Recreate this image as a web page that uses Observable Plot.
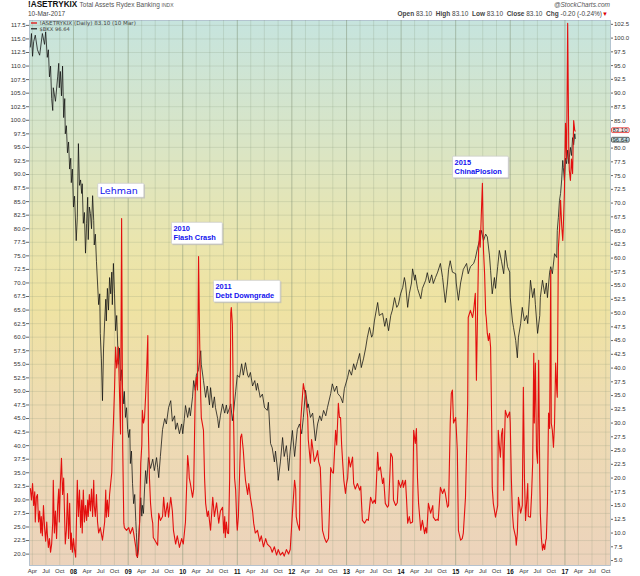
<!DOCTYPE html>
<html><head><meta charset="utf-8">
<script src="https://cdn.jsdelivr.net/npm/d3@7"></script>
<script src="https://cdn.jsdelivr.net/npm/@observablehq/plot@0.6"></script>
<style>
body{margin:0;background:#fff;font-family:"Liberation Sans",Arial,sans-serif;}
#wrap{position:relative;width:640px;height:576px;overflow:hidden;background:#fff;}
.h{position:absolute;white-space:nowrap;line-height:1;}
</style></head>
<body>
<div id="wrap">
  <div class="h" id="t1" style="left:28px;top:1px;font-size:8.2px;"></div>
  <div class="h" id="t2" style="left:28px;top:11px;font-size:6.5px;color:#444;"></div>
  <div class="h" id="t3" style="right:30px;top:2px;font-size:6.5px;color:#555;font-style:italic;"></div>
  <div class="h" id="t4" style="right:32px;top:11px;font-size:6.5px;color:#444;"></div>
  <div id="chart" style="position:absolute;left:0;top:20px;"></div>
</div>
<script>
// ---------- header / meta ----------
const symbolName = "!ASETRYKIX";
const symbolDesc = "Total Assets Rydex Banking";
const symbolExch = "INDX";
const asOfDate = "10-Mar-2017";
const asOfShort = "10 Mar";
const ohlc = {open: 83.10, high: 83.10, low: 83.10, close: 83.10};
const chg = -0.20, chgPct = -0.24;
const compareName = "$BKX";
const compareLast = 96.64;
const credit = "@StockCharts.com";

// ---------- axis scales ----------
const leftDomain = [17.9, 118.4];    // $BKX scale (left axis)
const rightDomain = [4.1, 103.2];    // !ASETRYKIX scale (right axis)
const xDomainYears = [2007.194, 2017.835];
const leftTicks = d3.range(20, 117.6, 2.5);
const rightTicks = d3.range(5, 102.6, 2.5);
const quarterNames = ["Jan", "Apr", "Jul", "Oct"];

// ---------- $BKX (black, left axis): [decimal year, value] ----------
const bkx = [
[2007.21,113.5],[2007.23,116],[2007.25,111.8],[2007.27,114.5],[2007.30,115.7],[2007.34,113],[2007.38,112],[2007.43,116],[2007.47,114],[2007.49,116.3],[2007.52,111.6],[2007.54,113],[2007.56,108],[2007.58,110],[2007.60,104],[2007.62,101.8],[2007.63,106],[2007.67,103.5],[2007.71,108],[2007.73,110.5],[2007.74,106],[2007.76,109],[2007.78,104.5],[2007.80,110],[2007.82,100.5],[2007.84,104],[2007.85,97.5],[2007.87,99],[2007.89,94],[2007.91,96],[2007.93,91],[2007.95,93],[2007.96,88.5],[2007.98,91],
[2008.00,84],[2008.02,86],[2008.05,77.8],[2008.07,82],[2008.09,95.7],[2008.11,88],[2008.13,89],[2008.15,86.5],[2008.16,88.3],[2008.18,81],[2008.20,83],[2008.22,75.5],[2008.24,81],[2008.26,85.8],[2008.27,78],[2008.29,84],[2008.31,82.8],[2008.33,80],[2008.35,86.1],[2008.37,81.5],[2008.38,77],[2008.40,79],[2008.42,74],[2008.44,70],[2008.46,66],[2008.48,68],[2008.49,60.7],[2008.51,56],[2008.53,48.3],[2008.55,58],[2008.57,63],[2008.59,67],[2008.60,63],[2008.62,69],[2008.64,65],[2008.66,71],[2008.68,68],[2008.70,72],[2008.71,66],[2008.73,73.6],[2008.75,68],[2008.77,61.2],[2008.79,64],[2008.81,58.1],[2008.82,55],[2008.84,58],[2008.86,52],[2008.88,54],[2008.90,50],[2008.92,47.7],[2008.93,50],[2008.95,45.2],[2008.97,47],[2008.99,43],
[2009.01,41.5],[2009.03,43],[2009.04,36.7],[2009.06,39],[2009.08,33],[2009.10,29.3],[2009.12,31],[2009.14,26],[2009.15,24],[2009.17,19.3],[2009.19,23],[2009.21,26],[2009.23,30.4],[2009.25,27],[2009.26,29],[2009.28,27.5],[2009.30,32],[2009.32,35.4],[2009.34,33],[2009.37,37.8],[2009.41,35.8],[2009.45,37.5],[2009.48,35.4],[2009.52,37.8],[2009.54,36],[2009.56,34.1],[2009.59,38],[2009.63,43],[2009.67,45],[2009.70,44],[2009.74,47],[2009.78,48.3],[2009.81,44.5],[2009.85,45.5],[2009.87,43],[2009.90,44.2],[2009.94,42.2],[2009.98,44],
[2010.00,42.2],[2010.03,45],[2010.05,47.4],[2010.09,45.2],[2010.12,47],[2010.14,45.5],[2010.18,49],[2010.20,52],[2010.23,50.2],[2010.25,53],[2010.29,54],[2010.33,57.5],[2010.34,55],[2010.38,52],[2010.42,48.9],[2010.45,51],[2010.49,47.5],[2010.51,50.7],[2010.55,47],[2010.58,49],[2010.60,47],[2010.64,45],[2010.66,43.3],[2010.69,45.5],[2010.73,47.7],[2010.77,46],[2010.80,47.5],[2010.82,45.9],[2010.86,47],[2010.88,47.7],[2010.91,44.6],[2010.93,46],[2010.97,50],
[2011.00,53],[2011.04,52.6],[2011.08,55.1],[2011.11,53],[2011.15,55.3],[2011.19,53],[2011.21,52.6],[2011.24,53.5],[2011.28,51],[2011.32,52],[2011.35,50.2],[2011.37,51.5],[2011.42,48.9],[2011.46,49.5],[2011.50,47],[2011.55,46.5],[2011.57,48],[2011.61,40.4],[2011.64,39.6],[2011.68,37],[2011.70,39],[2011.74,35.4],[2011.75,33.6],[2011.79,37],[2011.83,41.5],[2011.86,38],[2011.90,40],[2011.92,37.8],[2011.94,35.4],[2011.97,39],
[2012.01,42.8],[2012.05,38],[2012.07,40],[2012.10,43],[2012.14,44],[2012.18,42.2],[2012.21,45.2],[2012.25,50.2],[2012.29,47],[2012.30,47.7],[2012.34,45.2],[2012.38,46],[2012.40,44],[2012.43,40.9],[2012.47,44],[2012.51,45.5],[2012.54,44.6],[2012.58,46.5],[2012.62,45.5],[2012.65,47],[2012.71,49.6],[2012.74,51.4],[2012.78,50],[2012.82,51],[2012.84,49.6],[2012.89,49],[2012.93,47.9],[2012.96,50.5],
[2013.02,52.6],[2013.05,54],[2013.09,53],[2013.13,55.1],[2013.16,54],[2013.20,55.5],[2013.24,57],[2013.27,54.4],[2013.31,56],[2013.35,58],[2013.38,59.9],[2013.42,61.8],[2013.46,60],[2013.48,60.5],[2013.51,63],[2013.57,66.4],[2013.60,64],[2013.66,64.4],[2013.70,62],[2013.73,63.5],[2013.77,61.2],[2013.81,64],[2013.84,65],[2013.88,67.3],[2013.92,65.5],[2013.95,66],[2013.99,68],
[2014.03,69.2],[2014.06,71],[2014.08,70],[2014.12,65.5],[2014.15,68],[2014.19,70],[2014.21,72.6],[2014.25,70.5],[2014.26,71.5],[2014.30,69],[2014.36,67.1],[2014.39,69],[2014.45,70.5],[2014.48,71.9],[2014.52,70],[2014.56,71.5],[2014.59,69.9],[2014.63,71],[2014.67,72],[2014.72,73.6],[2014.76,71],[2014.81,66.4],[2014.85,70],[2014.87,72.5],[2014.90,74.1],[2014.94,72],
[2015.00,71.7],[2015.01,70],[2015.05,66.8],[2015.09,70],[2015.14,72.5],[2015.20,73.6],[2015.23,71.7],[2015.27,73],[2015.33,73.6],[2015.36,74.5],[2015.40,76.4],[2015.44,78],[2015.47,79.7],[2015.51,77.8],[2015.55,79],[2015.58,78.5],[2015.62,75],[2015.64,72.3],[2015.67,68],[2015.71,71],[2015.73,69],[2015.77,73],[2015.80,76],[2015.84,74],[2015.88,71.7],[2015.91,76],[2015.95,73],[2015.99,72],
[2016.00,67.3],[2016.04,63],[2016.06,61.8],[2016.10,59.4],[2016.13,56.2],[2016.15,60],[2016.19,62.5],[2016.22,65.5],[2016.26,63],[2016.30,64],[2016.32,62.5],[2016.35,67],[2016.37,70.5],[2016.41,67.3],[2016.44,69],[2016.46,66],[2016.50,60.7],[2016.54,64],[2016.55,67.3],[2016.59,70.5],[2016.63,68],[2016.66,70],[2016.68,67.3],[2016.72,72],[2016.74,73],[2016.77,71.7],[2016.81,75.4],[2016.85,74.7],[2016.86,79.7],[2016.88,82.1],[2016.90,85.2],[2016.92,86.5],[2016.94,89],[2016.96,92.6],[2016.97,91.3],[2016.99,88.9],
[2017.01,93],[2017.03,92],[2017.05,94.5],[2017.07,92],[2017.08,93.1],[2017.10,95],[2017.12,93.5],[2017.14,96.8],[2017.16,95.5],[2017.18,97.5],[2017.19,96.64]
];

// ---------- !ASETRYKIX (red, right axis): [decimal year, value] ----------
const rydex = [
[2007.21,18.1],[2007.23,16],[2007.25,19],[2007.27,15],[2007.29,17.5],[2007.30,12],[2007.32,16.5],[2007.34,17],[2007.36,12],[2007.38,14],[2007.40,10],[2007.41,13],[2007.43,9.5],[2007.45,15],[2007.47,11],[2007.49,8.5],[2007.51,12],[2007.52,10],[2007.54,7.4],[2007.56,9],[2007.58,6.5],[2007.60,8],[2007.62,12],[2007.63,19.6],[2007.65,10],[2007.67,14],[2007.69,9],[2007.71,15],[2007.73,18],[2007.74,12],[2007.76,19],[2007.78,23.6],[2007.80,17],[2007.82,20],[2007.84,12],[2007.85,8],[2007.87,10.5],[2007.89,17.2],[2007.91,9],[2007.93,15.4],[2007.95,7],[2007.96,10],[2007.98,6.5],
[2008.00,9],[2008.02,7],[2008.04,5.6],[2008.05,10],[2008.07,19.6],[2008.09,13],[2008.11,17.8],[2008.13,11],[2008.15,16],[2008.16,10],[2008.18,17.8],[2008.20,12],[2008.22,15],[2008.24,12.3],[2008.26,16],[2008.27,13],[2008.29,17],[2008.31,14],[2008.33,18],[2008.35,13],[2008.37,19.6],[2008.38,15],[2008.40,13],[2008.42,17],[2008.44,12],[2008.46,10],[2008.49,11],[2008.53,8.7],[2008.57,12],[2008.59,17.8],[2008.60,12.9],[2008.62,16],[2008.64,13],[2008.66,17],[2008.68,19],[2008.70,21],[2008.71,25],[2008.73,30],[2008.75,36],[2008.77,43.8],[2008.79,40],[2008.81,42],[2008.82,43.8],[2008.84,36],[2008.86,28],[2008.88,67.2],[2008.90,25.6],[2008.92,11.8],[2008.93,11],[2008.97,10.5],
[2009.01,11],[2009.04,9.9],[2009.08,11],[2009.10,10],[2009.14,7.4],[2009.15,6],[2009.17,5.6],[2009.19,7],[2009.21,12],[2009.23,22.7],[2009.25,26],[2009.26,32.3],[2009.28,30],[2009.30,31],[2009.32,35],[2009.34,40],[2009.36,45.9],[2009.37,28.7],[2009.39,20],[2009.41,15.4],[2009.43,13],[2009.45,11.8],[2009.46,9.2],[2009.50,8.5],[2009.54,7.8],[2009.56,13.6],[2009.59,12.3],[2009.63,13],[2009.65,16.5],[2009.68,13],[2009.72,15.5],[2009.74,12.9],[2009.78,16.5],[2009.81,14],[2009.83,10.5],[2009.87,8],[2009.90,9.5],[2009.94,7.4],[2009.98,9],
[2010.01,8],[2010.05,12],[2010.09,24.1],[2010.11,22],[2010.12,20],[2010.14,19],[2010.18,16.5],[2010.20,18],[2010.23,36],[2010.25,38.3],[2010.27,36],[2010.29,60.3],[2010.31,45],[2010.33,34.7],[2010.34,31],[2010.38,28.7],[2010.40,20],[2010.42,15.4],[2010.45,13],[2010.47,14],[2010.51,10.5],[2010.55,16.5],[2010.58,13],[2010.62,15.5],[2010.66,11.8],[2010.69,14],[2010.73,14.7],[2010.75,10],[2010.77,13],[2010.78,9.2],[2010.80,12],[2010.82,10],[2010.84,9.9],[2010.86,20],[2010.88,50],[2010.89,51],[2010.91,48],[2010.93,31.8],[2010.95,20],[2010.97,17.8],[2010.99,12],
[2011.00,10.5],[2011.02,13],[2011.04,20],[2011.06,27.4],[2011.08,28],[2011.10,26],[2011.11,25],[2011.13,22],[2011.15,19.6],[2011.19,17],[2011.21,19],[2011.24,16.5],[2011.28,14],[2011.30,11.8],[2011.33,10],[2011.37,10.5],[2011.41,8.5],[2011.44,9.5],[2011.48,7.5],[2011.52,9],[2011.55,8],[2011.61,7.4],[2011.64,6.5],[2011.68,7.5],[2011.72,6],[2011.75,7],[2011.79,6],[2011.83,6.5],[2011.86,5.8],[2011.90,7],[2011.94,6.2],[2011.97,7],
[2012.01,13.6],[2012.05,19.6],[2012.07,18],[2012.08,13],[2012.10,11.8],[2012.14,10.5],[2012.16,30],[2012.18,33],[2012.21,37.2],[2012.23,36],[2012.25,35],[2012.29,31],[2012.30,27],[2012.34,22.7],[2012.36,27],[2012.38,25.6],[2012.41,23],[2012.45,24],[2012.47,25],[2012.49,23],[2012.52,21.9],[2012.54,16],[2012.56,10.5],[2012.60,9],[2012.63,8.3],[2012.67,9],[2012.69,15],[2012.71,21.9],[2012.74,21],[2012.76,20.9],[2012.80,28.7],[2012.82,26],[2012.85,33.6],[2012.87,31],[2012.89,31],[2012.91,26],[2012.93,22.7],[2012.95,19.6],[2012.98,17.2],
[2013.00,19],[2013.02,20],[2013.04,23.8],[2013.07,22],[2013.11,23.8],[2013.13,19],[2013.16,18],[2013.20,19],[2013.24,17.8],[2013.26,18.5],[2013.29,12.3],[2013.33,11.8],[2013.37,12.5],[2013.40,12.3],[2013.44,16.5],[2013.48,15.4],[2013.51,16],[2013.53,15.4],[2013.55,20],[2013.57,24.7],[2013.59,21.4],[2013.62,22],[2013.66,19],[2013.68,20],[2013.71,15.4],[2013.75,14.7],[2013.77,15],[2013.81,24.5],[2013.84,23.8],[2013.86,16],[2013.90,15],[2013.93,15.5],[2013.95,19.6],[2013.99,18.3],
[2014.03,19.6],[2014.04,18.3],[2014.08,19.6],[2014.10,16],[2014.12,11.8],[2014.15,13],[2014.17,11.8],[2014.21,12],[2014.23,28.7],[2014.26,26.3],[2014.28,29],[2014.30,20],[2014.32,15.4],[2014.36,10.5],[2014.39,12.3],[2014.43,9.9],[2014.45,11],[2014.47,10],[2014.50,15.4],[2014.54,13.6],[2014.58,15],[2014.59,12.9],[2014.63,12.3],[2014.67,12.5],[2014.68,12.3],[2014.72,18.3],[2014.76,17.2],[2014.79,18],[2014.81,17.2],[2014.85,14.7],[2014.87,15],[2014.90,30],[2014.92,35.4],[2014.94,36],[2014.96,30],
[2015.00,31],[2015.01,29.2],[2015.03,25],[2015.05,10.5],[2015.09,8.7],[2015.12,9],[2015.14,10],[2015.18,16.5],[2015.22,33.6],[2015.23,49.2],[2015.27,50.5],[2015.31,49.2],[2015.33,50.5],[2015.36,53.6],[2015.38,37.8],[2015.42,61.4],[2015.44,65],[2015.45,62],[2015.47,68],[2015.49,73.6],[2015.51,61.4],[2015.53,57.2],[2015.55,50],[2015.56,49.2],[2015.58,46.3],[2015.60,45],[2015.62,46.3],[2015.64,43.8],[2015.66,30],[2015.67,18.3],[2015.69,15.4],[2015.73,12.9],[2015.77,15],[2015.78,28.7],[2015.80,26],[2015.82,23.8],[2015.84,28],[2015.86,29],[2015.88,17.8],[2015.89,25],[2015.91,32.3],[2015.95,31],[2015.99,32],
[2016.00,30],[2016.02,20],[2016.04,13.6],[2016.06,11],[2016.10,9.2],[2016.11,7.8],[2016.13,10],[2016.15,16.5],[2016.19,13.6],[2016.22,15],[2016.24,36.5],[2016.26,20],[2016.28,12.3],[2016.32,19],[2016.33,13],[2016.37,12.9],[2016.39,17],[2016.41,22.7],[2016.43,42.7],[2016.44,30],[2016.46,40.9],[2016.48,25],[2016.50,22.7],[2016.52,41.4],[2016.54,20],[2016.55,13.6],[2016.57,9],[2016.59,6.9],[2016.61,8],[2016.63,7],[2016.65,8.7],[2016.66,9],[2016.68,15.4],[2016.70,31.8],[2016.72,29],[2016.74,57.8],[2016.75,30],[2016.77,28.7],[2016.79,25.6],[2016.81,30],[2016.83,40.9],[2016.85,36],[2016.86,34.7],[2016.88,61.9],[2016.90,65],[2016.92,70.5],[2016.94,66],[2016.96,63.2],[2016.97,65.6],[2016.99,72],
[2017.01,84.5],[2017.03,78],[2017.05,102.7],[2017.07,80.1],[2017.08,76],[2017.10,74.1],[2017.12,78],[2017.14,75.4],[2017.16,85],[2017.18,83.2],[2017.19,83.1]
];

// ---------- annotations: [decimal year, left-axis level, label] ----------
const notes = [
  [2008.48, 87.0, "Lehman"],
  [2009.83, 79.3, "2010\nFlash Crash"],
  [2010.60, 68.6, "2011\nDebt Downgrade"],
  [2014.98, 91.5, "2015\nChinaPlosion"]
];

// ---------- helpers ----------
const toDate = yr => {
  const y = Math.floor(yr + 1e-9);
  const a = Date.UTC(y, 0, 1), b = Date.UTC(y + 1, 0, 1);
  return new Date(a + (yr - y) * (b - a));
};
const k = (leftDomain[1] - leftDomain[0]) / (rightDomain[1] - rightDomain[0]);
const toLeft = r => leftDomain[0] + (r - rightDomain[0]) * k;
const fromLeft = l => rightDomain[0] + (l - leftDomain[0]) / k;

// right-axis labels hidden under the last-value tags (as in the original)
const rightTicksShown = rightTicks.filter(v => Math.abs(v - ohlc.close) >= 1.25);

const quarters = d3.utcMonth.every(3).range(new Date(Date.UTC(2007, 3, 1)), new Date(Date.UTC(2017, 10, 1)));
const yearStarts = quarters.filter(d => d.getUTCMonth() === 0);
const monthQs = quarters.filter(d => d.getUTCMonth() !== 0);

// ---------- header ----------
document.getElementById("t1").innerHTML =
  `<span style="font-weight:bold;color:#111">${symbolName}</span> ` +
  `<span style="font-size:6.5px;color:#555">${symbolDesc} <span style="font-size:5px">${symbolExch}</span></span>`;
document.getElementById("t2").textContent = asOfDate;
document.getElementById("t3").textContent = credit;
document.getElementById("t4").innerHTML =
  `<b>Open</b> ${ohlc.open.toFixed(2)} &nbsp;<b>High</b> ${ohlc.high.toFixed(2)} &nbsp;<b>Low</b> ${ohlc.low.toFixed(2)} &nbsp;<b>Close</b> ${ohlc.close.toFixed(2)} &nbsp;<b>Chg</b> ${chg.toFixed(2)} (${chgPct.toFixed(2)}%)<span style="color:#d00;font-size:6px">&#9660;</span>`;

// ---------- chart ----------
const gridColor = "#7d8f73";
const svg = Plot.plot({
  width: 640,
  height: 556,
  marginTop: 0,
  marginBottom: 11,
  marginLeft: 29,
  marginRight: 30,
  style: {fontFamily: "'Liberation Sans', Arial, sans-serif", fontSize: "6px", color: "#333", background: "transparent", overflow: "visible"},
  x: {type: "utc", domain: xDomainYears.map(toDate), axis: null},
  y: {domain: leftDomain, axis: null},
  marks: [
    Plot.frame({fill: "#eee", stroke: "#a7b9c9", strokeWidth: 0.8}),
    Plot.ruleY(leftTicks, {stroke: gridColor, strokeOpacity: 0.28, strokeWidth: 0.7}),
    Plot.ruleX(monthQs, {stroke: gridColor, strokeOpacity: 0.3, strokeWidth: 0.7}),
    Plot.ruleX(yearStarts, {stroke: gridColor, strokeOpacity: 0.55, strokeWidth: 0.9}),
    Plot.line(bkx, {x: d => toDate(d[0]), y: d => d[1], stroke: "#111", strokeWidth: 0.85, strokeOpacity: 0.9}),
    Plot.line(rydex, {x: d => toDate(d[0]), y: d => toLeft(d[1]), stroke: "#e3100f", strokeWidth: 1.1}),
    Plot.axisY({anchor: "left", ticks: leftTicks, tickFormat: d => d.toFixed(1), tickSize: 3, tickPadding: 1, label: null, fontSize: 6, stroke: "#666"}),
    Plot.axisY({anchor: "right", ticks: rightTicksShown.map(toLeft), tickFormat: d => fromLeft(d).toFixed(1), tickSize: 2, tickPadding: 1.5, label: null, fontSize: 6, stroke: "#666"}),
    Plot.text(monthQs, {x: d => d, text: d => quarterNames[d.getUTCMonth() / 3], frameAnchor: "bottom", dy: 6, lineAnchor: "middle", fontSize: 6, fill: "#333"}),
    Plot.text(yearStarts, {x: d => d, text: d => String(d.getUTCFullYear()).slice(2), frameAnchor: "bottom", dy: 6, lineAnchor: "middle", fontSize: 6.3, fontWeight: "bold", fill: "#111"}),
    Plot.text([notes[0]], {x: d => toDate(d[0]), y: d => d[1], text: d => d[2], textAnchor: "start", lineAnchor: "middle", fontFamily: "'DejaVu Sans', sans-serif", fontSize: 9.5, fill: "#1212ee", ariaDescription: "notes"}),
    Plot.text(notes.slice(1), {x: d => toDate(d[0]), y: d => d[1], text: d => d[2], textAnchor: "start", lineAnchor: "middle", lineHeight: 1.3, fontFamily: "'Liberation Sans', Arial, sans-serif", fontWeight: "bold", fontSize: 7.4, fill: "#1212ee", ariaDescription: "notes"}),
    Plot.text([ohlc.close], {y: d => toLeft(d), text: d => d.toFixed(2), frameAnchor: "right", textAnchor: "start", dx: 2, dy: -0.8, lineAnchor: "middle", fontSize: 6, fill: "#222", ariaDescription: "lastRed"}),
    Plot.text([compareLast], {y: d => d, text: d => d.toFixed(2), frameAnchor: "right", textAnchor: "start", dx: 2, dy: 1.3, lineAnchor: "middle", fontSize: 6, fill: "#222", ariaDescription: "lastBlack"}),
    Plot.text([`${symbolName} (Daily) ${ohlc.close.toFixed(2)} (${asOfShort})`], {frameAnchor: "top-left", dx: 10, dy: 3, textAnchor: "start", lineAnchor: "middle", fontFamily: "'DejaVu Sans', sans-serif", fontSize: 5.6, fill: "#444"}),
    Plot.text([`${compareName} ${compareLast.toFixed(2)}`], {frameAnchor: "top-left", dx: 10, dy: 8.8, textAnchor: "start", lineAnchor: "middle", fontFamily: "'DejaVu Sans', sans-serif", fontSize: 5.2, fill: "#444"})
  ]
});
document.getElementById("chart").appendChild(svg);

// background gradient
const s = d3.select(svg);
const defs = s.insert("defs", ":first-child");
const grad = defs.append("linearGradient").attr("id", "bg").attr("x1", 0).attr("y1", 0).attr("x2", 0).attr("y2", 1);
[[0, "#c6e4de"], [0.22, "#d9e5c6"], [0.42, "#ebe5ac"], [0.52, "#efe3a2"], [0.7, "#eedcb1"], [1, "#ecd3bc"]]
  .forEach(([o, c]) => grad.append("stop").attr("offset", o).attr("stop-color", c));
s.selectAll('[aria-label="frame"]').each(function() {
  const el = this.tagName === "rect" ? this : this.querySelector("rect");
  if (el) el.setAttribute("fill", "url(#bg)");
});

// legend swatches
const leg = s.append("g");
leg.append("line").attr("x1", 31).attr("x2", 37).attr("y1", 3).attr("y2", 3).attr("stroke", "#e3100f").attr("stroke-width", 1.3);
leg.append("line").attr("x1", 31).attr("x2", 37).attr("y1", 8.8).attr("y2", 8.8).attr("stroke", "#111").attr("stroke-width", 1.1);

// boxes behind annotation and last-value labels
function boxes(desc, pad, fill, stroke, shadow) {
  s.selectAll(`[aria-description="${desc}"] text`).each(function() {
    const b = this.getBBox();
    const t = this.getAttribute("transform") || "";
    const parent = this.parentNode;
    if (shadow) {
      const sh = document.createElementNS("http://www.w3.org/2000/svg", "rect");
      sh.setAttribute("x", b.x - pad[3] + 1.2); sh.setAttribute("y", b.y - pad[0] + 1.2);
      sh.setAttribute("width", b.width + pad[1] + pad[3]); sh.setAttribute("height", b.height + pad[0] + pad[2]);
      sh.setAttribute("transform", t); sh.setAttribute("fill", "#b9b9b9"); sh.setAttribute("fill-opacity", 0.7);
      parent.insertBefore(sh, this);
    }
    const r = document.createElementNS("http://www.w3.org/2000/svg", "rect");
    r.setAttribute("x", b.x - pad[3]); r.setAttribute("y", b.y - pad[0]);
    r.setAttribute("width", b.width + pad[1] + pad[3]); r.setAttribute("height", b.height + pad[0] + pad[2]);
    r.setAttribute("transform", t); r.setAttribute("fill", fill); r.setAttribute("stroke", stroke);
    r.setAttribute("stroke-width", 0.7); r.setAttribute("rx", 1);
    parent.insertBefore(r, this);
  });
}
boxes("notes", [1.5, 6, 1.5, 2], "#ffffff", "#c8c8c8", true);
boxes("lastRed", [-0.6, 1, -0.6, 1], "#fbeaea", "#e3100f", false);
boxes("lastBlack", [-0.6, 1, -0.6, 1], "#c7e6ea", "#222", false);
</script>
</body></html>
